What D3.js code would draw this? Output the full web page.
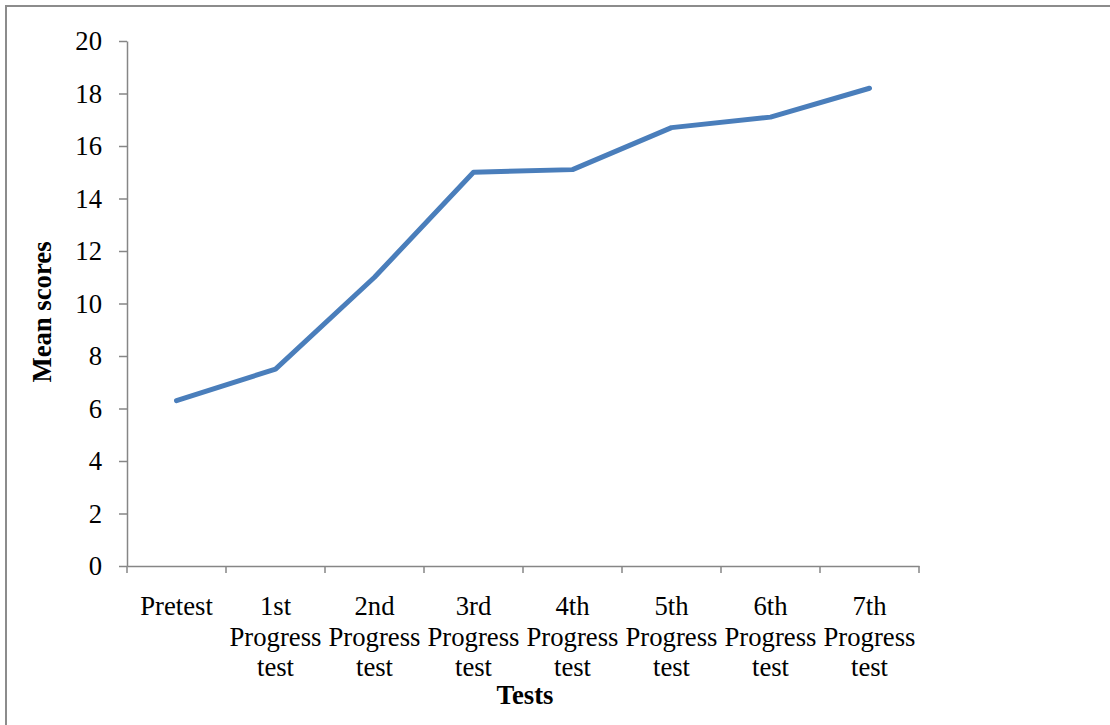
<!DOCTYPE html>
<html><head><meta charset="utf-8">
<script src="https://cdn.jsdelivr.net/npm/d3@7"></script>
<style>html,body{margin:0;padding:0;background:#fff;}svg{display:block;}</style>
</head><body>
<svg id="c" width="1110" height="725"></svg>
<script>
const categories = [["Pretest"],["1st","Progress","test"],["2nd","Progress","test"],["3rd","Progress","test"],["4th","Progress","test"],["5th","Progress","test"],["6th","Progress","test"],["7th","Progress","test"]];
const meanScores = [6.3, 7.5, 11.0, 15.0, 15.1, 16.7, 17.1, 18.2];
const yTicks = [0,2,4,6,8,10,12,14,16,18,20];

(function(){
const svg = d3.select("#c");
const font = "'Liberation Serif','Times New Roman',serif";
const axisColor = "#868686";
const fs = 26.7;

// outer border
svg.append("rect").attr("x",6).attr("y",6).attr("width",1200).attr("height",800)
  .attr("fill","none").attr("stroke","#8c8c8c").attr("stroke-width",2);

const pl = 127, pr = 919, pt = 41, pb = 566;
const keys = categories.map((d,i)=>i);
const x = d3.scaleBand().domain(keys).range([pl,pr]);
const y = d3.scaleLinear().domain([0,20]).range([pb,pt]);

// y axis
const yAxis = svg.append("g").attr("transform",`translate(${pl},0)`)
  .call(d3.axisLeft(y).tickValues(yTicks).tickSize(8).tickSizeOuter(0).tickPadding(17));
yAxis.select(".domain").attr("stroke",axisColor).attr("stroke-width",1.5);
yAxis.selectAll(".tick line").attr("stroke",axisColor).attr("stroke-width",1.5);
yAxis.selectAll(".tick text").attr("font-family",font).attr("font-size",fs).attr("fill","#000");

// x axis
const xAxis = svg.append("g").attr("transform",`translate(0,${pb})`)
  .call(d3.axisBottom(x).tickFormat("").tickSize(0).tickSizeOuter(0));
xAxis.select(".domain").attr("stroke",axisColor).attr("stroke-width",1.5);
xAxis.selectAll(".tick").remove();
const bounds = keys.map(k=>x(k)).concat([pr]);
xAxis.selectAll("line.bt").data(bounds).enter().append("line").attr("class","bt")
  .attr("x1",d=>d).attr("x2",d=>d).attr("y1",0).attr("y2",7)
  .attr("stroke",axisColor).attr("stroke-width",1.5);

// category labels
const lab = svg.append("g");
categories.forEach((lines,i)=>{
  const t = lab.append("text").attr("text-anchor","middle").attr("font-family",font)
    .attr("font-size",fs).attr("fill","#000");
  lines.forEach((s,j)=>{
    t.append("tspan").attr("x",x(i)+x.bandwidth()/2).attr("y",615+j*30.5).text(s);
  });
});

// line
const line = d3.line().x((d,i)=>x(i)+x.bandwidth()/2).y(d=>y(d));
svg.append("path").datum(meanScores).attr("d",line).attr("fill","none")
  .attr("stroke","#4a7ebb").attr("stroke-width",5).attr("stroke-linejoin","round").attr("stroke-linecap","round");

// titles
svg.append("text").attr("x",x(3)+x.bandwidth()+2).attr("y",704).attr("text-anchor","middle")
  .attr("font-family",font).attr("font-size",fs).attr("font-weight","bold").text("Tests");
svg.append("text").attr("transform","translate(51,312) rotate(-90)").attr("text-anchor","middle")
  .attr("font-family",font).attr("font-size",fs).attr("font-weight","bold").text("Mean scores");
})();
</script>
</body></html>
